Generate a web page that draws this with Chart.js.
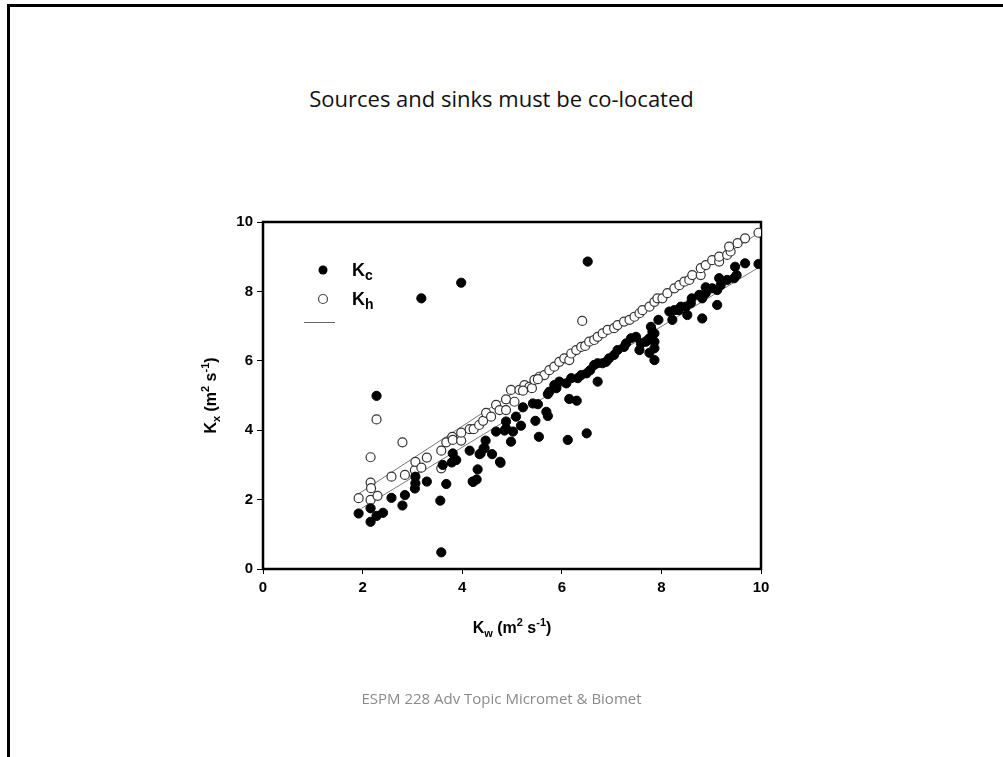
<!DOCTYPE html>
<html>
<head>
<meta charset="utf-8">
<script src="https://cdn.jsdelivr.net/npm/chart.js@4.4.1/dist/chart.umd.min.js"></script>
<style>
html, body { margin: 0; padding: 0; background: #fff; }
#slide { position: relative; width: 1003px; height: 757px; overflow: hidden; }
#edge { position: absolute; left: 7px; top: 4px; width: 1100px; height: 900px; border-left: 3px solid #000; border-top: 3px solid #000; }
#title { position: absolute; left: 0; top: 83px; width: 1003px; text-align: center; font-family: 'Open Sans', sans-serif; font-size: 22px; color: #111; }
#footer { position: absolute; left: 0; top: 688px; width: 1003px; text-align: center; font-family: 'Open Sans', sans-serif; font-size: 15px; color: #8a8a8a; }
#wrap { position: absolute; left: 0; top: 0; width: 1003px; height: 757px; }
</style>
</head>
<body>
<div id="slide">
  <div id="edge"></div>
  <div id="title">Sources and sinks must be co-located</div>
  <div id="wrap"><canvas id="myChart"></canvas></div>
  <div id="footer">ESPM 228 Adv Topic Micromet &amp; Biomet</div>
</div>
<script>
// Kc (filled circles)
const kcX = [1.92,2.16,2.16,2.28,2.41,2.28,2.58,2.85,2.80,3.06,3.06,3.05,3.18,3.29,3.56,3.58,3.68,3.61,3.79,3.81,
  3.88,3.98,4.15,4.21,4.29,4.31,4.37,4.45,4.47,4.60,4.76,4.68,4.85,4.88,4.98,5.02,5.08,5.18,5.22,5.42,
  5.52,5.47,5.54,5.69,5.72,5.72,5.75,5.85,5.89,5.95,6.09,6.12,6.15,6.19,6.30,6.32,6.39,6.50,6.50,6.52,
  6.57,6.65,6.72,6.72,6.82,6.89,6.95,7.05,7.12,7.25,7.29,7.39,7.49,7.59,7.56,7.76,7.86,7.86,7.69,7.86,
  7.76,7.86,7.82,7.79,7.94,8.16,8.22,8.26,8.35,8.39,8.49,8.52,8.59,8.61,8.76,8.82,8.82,8.89,8.89,9.02,
  9.12,9.12,9.19,9.16,9.32,9.46,9.51,9.48,9.68,9.95,4.22,4.35,4.43,4.77,4.88];
const kcY = [1.60,1.75,1.36,1.53,1.62,4.99,2.05,2.13,1.83,2.66,2.47,2.32,7.80,2.52,1.97,0.48,2.45,3.00,3.07,3.33,
  3.14,8.25,3.41,2.52,2.58,2.87,3.33,3.48,3.70,3.31,3.09,3.96,3.99,4.25,3.67,3.96,4.39,4.13,4.66,4.77,
  4.75,4.27,3.81,4.53,4.41,5.04,5.11,5.30,5.21,5.40,5.35,3.72,4.90,5.50,4.85,5.50,5.59,5.64,3.91,8.86,
  5.73,5.88,5.93,5.40,5.93,5.97,6.07,6.17,6.31,6.40,6.50,6.65,6.69,6.50,6.31,6.23,6.02,6.36,6.55,6.55,
  6.65,6.79,6.84,6.98,7.18,7.42,7.18,7.46,7.46,7.56,7.56,7.32,7.66,7.80,7.90,7.80,7.22,7.95,8.12,8.09,
  8.04,7.61,8.18,8.38,8.33,8.38,8.47,8.71,8.81,8.79,2.51,3.31,3.48,3.06,4.05];

// Kh (open circles)
const khX = [1.92,2.16,2.16,2.17,2.16,2.28,2.30,2.58,2.80,2.85,3.05,3.06,3.18,3.29,3.58,3.58,3.68,3.80,3.81,3.98,
  3.98,4.15,4.23,4.34,4.42,4.48,4.58,4.68,4.75,4.88,4.88,4.98,5.05,5.15,5.25,5.35,5.40,5.45,5.55,5.65,
  5.75,5.85,5.95,6.05,6.15,6.19,6.29,6.39,6.41,6.47,6.55,6.65,6.72,6.82,6.92,7.05,7.12,7.25,7.36,7.46,
  7.56,7.62,7.76,7.86,7.92,8.02,8.12,8.26,8.36,8.46,8.56,8.62,8.79,8.79,8.89,9.02,9.16,9.16,9.32,9.39,
  9.36,9.53,9.68,9.95,5.22,5.52];
const khY = [2.04,1.99,2.49,2.33,3.22,4.31,2.11,2.66,3.65,2.71,2.85,3.09,2.92,3.21,2.90,3.41,3.65,3.81,3.72,3.70,
  3.93,4.03,4.03,4.15,4.27,4.50,4.39,4.73,4.58,4.58,4.89,5.16,4.82,5.16,5.30,5.25,5.21,5.45,5.54,5.59,
  5.73,5.83,5.97,6.07,6.02,6.21,6.31,6.40,7.15,6.43,6.55,6.60,6.69,6.79,6.89,6.94,7.03,7.13,7.18,7.27,
  7.37,7.46,7.56,7.70,7.80,7.80,7.95,8.09,8.18,8.28,8.33,8.47,8.47,8.67,8.76,8.90,8.86,9.00,9.05,9.15,
  9.29,9.39,9.53,9.69,5.14,5.47];

// fitted lines (end points)
const khFitX = [1.88, 9.96];
const khFitY = [2.13, 9.69];
const kcFitX = [1.98, 9.93];
const kcFitY = [1.75, 8.67];

const xTicks = [0, 2, 4, 6, 8, 10];
const yTicks = [0, 2, 4, 6, 8, 10];

const toPts = (xs, ys) => xs.map((x, i) => ({ x: x, y: ys[i] }));
const FONT = "'Liberation Sans', Arial, sans-serif";

// draws pieces of text with sub/superscripts, centred on (cx, cy)
function drawRich(ctx, parts, cx, cy, rot) {
  ctx.save();
  ctx.translate(cx, cy);
  if (rot) ctx.rotate(rot);
  let w = 0;
  parts.forEach(p => { ctx.font = 'bold ' + p.s + 'px ' + FONT; w += ctx.measureText(p.t).width; });
  let x = -w / 2;
  ctx.fillStyle = '#000';
  ctx.textBaseline = 'alphabetic';
  parts.forEach(p => {
    ctx.font = 'bold ' + p.s + 'px ' + FONT;
    ctx.fillText(p.t, x, 6 + p.dy);
    x += ctx.measureText(p.t).width;
  });
  ctx.restore();
}

const decorations = {
  id: 'decorations',
  beforeDatasetsDraw(chart) {
    const { ctx, chartArea: a } = chart;
    ctx.save();
    ctx.strokeStyle = '#000';
    ctx.lineWidth = 2.5;
    ctx.strokeRect(a.left, a.top, a.right - a.left, a.bottom - a.top);
    ctx.restore();
  },
  afterDraw(chart) {
    const { ctx, chartArea: a } = chart;
    const midX = (a.left + a.right) / 2;
    const midY = (a.top + a.bottom) / 2;

    // axis titles
    drawRich(ctx, [
      { t: 'K', s: 16, dy: 0 }, { t: 'w', s: 11, dy: 4 }, { t: ' (m', s: 16, dy: 0 },
      { t: '2', s: 11, dy: -7 }, { t: ' s', s: 16, dy: 0 }, { t: '-1', s: 11, dy: -7 }, { t: ')', s: 16, dy: 0 }
    ], midX, a.bottom + 58, 0);
    drawRich(ctx, [
      { t: 'K', s: 16, dy: 0 }, { t: 'x', s: 11, dy: 4 }, { t: ' (m', s: 16, dy: 0 },
      { t: '2', s: 11, dy: -7 }, { t: ' s', s: 16, dy: 0 }, { t: '-1', s: 11, dy: -7 }, { t: ')', s: 16, dy: 0 }
    ], a.left - 53, midY, -Math.PI / 2);

    // legend
    const lx = a.left + 60, ly = a.top + 48;
    ctx.save();
    ctx.beginPath();
    ctx.arc(lx, ly, 4.5, 0, Math.PI * 2);
    ctx.fillStyle = '#000';
    ctx.fill();
    ctx.beginPath();
    ctx.arc(lx, ly + 29, 4.5, 0, Math.PI * 2);
    ctx.fillStyle = '#fff';
    ctx.fill();
    ctx.strokeStyle = '#444';
    ctx.lineWidth = 1.2;
    ctx.stroke();
    ctx.beginPath();
    ctx.moveTo(lx - 19, ly + 52.5);
    ctx.lineTo(lx + 12, ly + 52.5);
    ctx.strokeStyle = '#666';
    ctx.lineWidth = 1;
    ctx.stroke();
    ctx.fillStyle = '#000';
    ctx.textBaseline = 'alphabetic';
    ctx.font = 'bold 18px ' + FONT;
    ctx.fillText('K', lx + 29, ly + 6);
    ctx.fillText('K', lx + 29, ly + 35);
    ctx.font = 'bold 14px ' + FONT;
    ctx.fillText('c', lx + 42, ly + 10);
    ctx.fillText('h', lx + 42, ly + 39);
    ctx.restore();
  }
};

let ctx = document.getElementById('myChart').getContext('2d');
let myChart = new Chart(ctx, {
  type: 'scatter',
  data: {
    datasets: [{
      label: 'Kc',
      data: toPts(kcX, kcY),
      backgroundColor: '#000',
      borderColor: '#000',
      borderWidth: 1,
      pointRadius: 4.6,
      order: 1
    }, {
      label: 'Kh',
      data: toPts(khX, khY),
      backgroundColor: '#fff',
      borderColor: '#333',
      borderWidth: 1.2,
      pointRadius: 4.5,
      order: 2
    }, {
      type: 'line',
      label: 'Kh fit',
      data: toPts(khFitX, khFitY),
      borderColor: '#777',
      borderWidth: 1,
      pointRadius: 0,
      fill: false,
      order: 3
    }, {
      type: 'line',
      label: 'Kc fit',
      data: toPts(kcFitX, kcFitY),
      borderColor: '#777',
      borderWidth: 1,
      pointRadius: 0,
      fill: false,
      order: 3
    }]
  },
  options: {
    responsive: true,
    maintainAspectRatio: false,
    animation: false,
    layout: { padding: { left: 213, right: 242, top: 222, bottom: 128 } },
    plugins: { legend: { display: false }, tooltip: { enabled: false } },
    scales: {
      x: {
        type: 'linear',
        min: 0, max: 10,
        afterBuildTicks: s => { s.ticks = xTicks.map(v => ({ value: v })); },
        afterFit: s => { s.height = 60; },
        border: { display: false },
        grid: { drawOnChartArea: false, drawTicks: true, tickLength: 5, color: '#000' },
        ticks: { color: '#000', padding: 5, maxRotation: 0, font: { family: FONT, size: 15, weight: 'bold' } }
      },
      y: {
        type: 'linear',
        min: 0, max: 10,
        afterBuildTicks: s => { s.ticks = yTicks.map(v => ({ value: v })); },
        afterFit: s => { s.width = 50; },
        border: { display: false },
        grid: { drawOnChartArea: false, drawTicks: true, tickLength: 6, color: '#000' },
        ticks: { color: '#000', padding: 4, font: { family: FONT, size: 15, weight: 'bold' } }
      }
    }
  },
  plugins: [decorations]
});
</script>
</body>
</html>
